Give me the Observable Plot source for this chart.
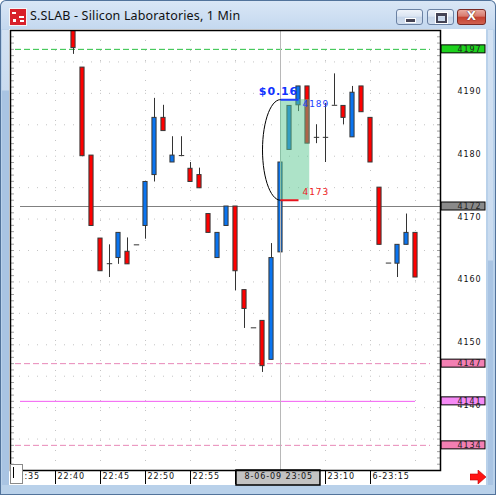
<!DOCTYPE html>
<html>
<head>
<meta charset="utf-8">
<script src="https://cdn.jsdelivr.net/npm/d3@7"></script>
<script src="https://cdn.jsdelivr.net/npm/@observablehq/plot@0.6"></script>
<style>
  html, body { margin: 0; padding: 0; background: #fff; }
  #win {
    position: relative; width: 496px; height: 495px; overflow: hidden;
    background: linear-gradient(to bottom, #dae7f6 0px, #c4d8ef 29px, #b9d1ea 30px, #b9d1ea 100%);
    border-radius: 6px 6px 0 0;
    box-shadow: inset 0 0 0 1px #52739b;
  }
  .strip-left { position: absolute; left: 2px; top: 30px; width: 7px; height: 455px;
    background: linear-gradient(to bottom, #d3e2f3 0, #c9dbef 60px, #a9c4e3 61px, #a9c4e3 100%); }
  .strip-right { position: absolute; left: 488px; top: 30px; width: 5px; height: 455px;
    background: linear-gradient(to bottom, #d3e2f3 0, #c9dbef 230px, #a9c4e3 231px, #a9c4e3 100%); }
  .icon { position: absolute; left: 10px; top: 9px; width: 16px; height: 16px;
    background:
      linear-gradient(#fff, #fff) 2px 3px / 4px 2px no-repeat,
      linear-gradient(#fff, #fff) 9px 7px / 5px 2px no-repeat,
      linear-gradient(#fff, #fff) 3px 10px / 3px 3px no-repeat,
      linear-gradient(#fff, #fff) 10px 11px / 4px 2px no-repeat,
      #d8202a; box-shadow: 0 0 0 1px #f4f4f4; }
  .title { position: absolute; left: 30px; top: 7px; font: 12.5px "Noto Sans", sans-serif; letter-spacing: 0.15px; color: #111; white-space: nowrap; }
  .btn { position: absolute; top: 9px; height: 16px; border: 1px solid #6a81a3; border-radius: 3px;
    background: linear-gradient(to bottom, #eef3fa 0, #dbe5f2 45%, #c6d5e9 50%, #d2dfef 100%); box-sizing: border-box; }
  .btn.min { left: 396px; width: 27px; }
  .btn.max { left: 427px; width: 27px; }
  .btn.close { left: 457px; width: 29px; border-color: #7a2a24;
    background: linear-gradient(to bottom, #e9a99f 0, #d77a6e 45%, #c4402f 50%, #d0614f 100%); }
  .btn.min::after { content: ""; position: absolute; left: 8px; top: 8px; width: 9px; height: 3px; background: #445; border: 1px solid #fff; }
  .btn.max::after { content: ""; position: absolute; left: 8px; top: 3px; width: 7px; height: 5px; border: 2px solid #445; border-top-width: 3px; box-shadow: 0 0 0 1px #fff; }
  .btn.close::after { content: "X"; position: absolute; left: 0; right: 0; top: -1px; text-align: center;
    font: bold 12px "DejaVu Sans", sans-serif; color: #fff; text-shadow: 0 0 1px #5a1a14, 0 0 1px #5a1a14; }
  #chart { position: absolute; left: 9px; top: 29px; }
  .scrollbox { position: absolute; left: 10px; top: 464px; width: 13px; height: 20px; box-sizing: border-box;
    background: #fff; border: 1px solid #8a8a8a; }
  .scrollbox::after { content: ""; position: absolute; left: 2px; top: 2px; width: 1px; height: 11px; background: #000; }
  .arrow { position: absolute; left: 470px; top: 470px; }
</style>
</head>
<body>
<div id="win">
  <div class="strip-left"></div>
  <div class="strip-right"></div>
  <div class="icon"></div>
  <div class="title">S.SLAB - Silicon Laboratories, 1 Min</div>
  <div class="btn min"></div>
  <div class="btn max"></div>
  <div class="btn close"></div>
  <div id="chart"></div>
  <div class="scrollbox"></div>
  <svg class="arrow" width="17" height="14"><polygon points="0,4 8,4 8,0 16,7 8,14 8,10 0,10" fill="#ff1414" stroke="#c00000" stroke-width="0.6"/></svg>
</div>
<script>
// One-minute bars, 22:42 – 23:20
const times  = ["22:42","22:43","22:44","22:45","22:46","22:47","22:48","22:49","22:50","22:51",
                "22:52","22:53","22:54","22:55","22:56","22:57","22:58","22:59","23:00","23:01",
                "23:02","23:03","23:04","23:05","23:06","23:07","23:08","23:09","23:10","23:11",
                "23:12","23:13","23:14","23:15","23:16","23:17","23:18","23:19","23:20"];
const opens  = [4201.5,4194.1,4180.1,4166.9,4162.9,4163.8,4164.8,4165.9,4168.9,4177.0,
                4186.1,4179.0,4180.1,4178.0,4177.0,4170.8,4163.8,4168.9,4172.0,4158.7,
                4152.7,4153.8,4147.6,4164.7,4181.0,4188.1,4191.1,4183.0,4183.0,4188.1,
                4188.0,4183.0,4191.1,4186.1,4175.0,4163.0,4162.9,4165.9,4167.8];
const highs  = [4202.0,4194.1,4180.1,4166.9,4165.9,4167.8,4167.0,4165.9,4175.9,4189.2,
                4188.1,4183.1,4183.1,4179.0,4178.1,4170.8,4167.8,4172.0,4172.0,4158.7,
                4152.7,4153.8,4166.1,4179.0,4188.0,4191.1,4191.1,4185.0,4188.4,4193.1,
                4188.0,4191.1,4191.1,4186.1,4175.0,4163.0,4165.9,4170.8,4167.8];
const lows   = [4196.2,4180.0,4168.9,4161.7,4160.7,4162.8,4162.8,4165.9,4166.8,4175.9,
                4184.0,4179.0,4180.1,4175.9,4174.9,4167.8,4163.8,4168.9,4158.6,4152.6,
                4152.7,4145.6,4147.6,4164.7,4181.0,4187.1,4182.0,4182.0,4179.0,4188.1,
                4185.0,4183.0,4187.0,4179.0,4165.9,4163.0,4160.7,4165.9,4160.7];
const closes = [4197.2,4180.0,4168.9,4161.7,4162.9,4167.8,4162.8,4165.9,4175.9,4186.1,
                4184.0,4180.1,4180.1,4175.9,4174.9,4167.8,4167.8,4172.0,4161.7,4155.7,
                4152.7,4146.6,4163.8,4179.0,4188.0,4191.1,4182.0,4183.0,4183.0,4188.1,
                4186.1,4190.1,4187.0,4179.0,4165.9,4163.0,4165.9,4167.8,4160.7];

// Price axis and reference levels
const priceTicks = [4190, 4180, 4170, 4160, 4150, 4140];
const gridPrices = [4195, 4190, 4185, 4180, 4175, 4170, 4165, 4160, 4155, 4150, 4145, 4140, 4135];
const minorPrices = d3.range(4131, 4200);
const levels = [4197, 4172, 4147, 4141, 4134];

// Time axis (23:00 and 23:05 sit under the cursor label)
const timeTicks  = ["22:35","22:40","22:45","22:50","22:55","23:10","23:15"];
const timeLabels = ["22:35","22:40","22:45","22:50","22:55","23:10","6-23:15"];
const separators = ["22:40","22:45","22:50","22:55","23:00","23:10","23:15"];
const gridTimes  = ["22:40","22:45","22:50","22:55","23:00","23:10","23:15","23:20"];

// Cursor and price-range measurement
const cursorTime = "23:05";
const cursorLabel = "8-06-09 23:05";
const measure = { from: "23:05", to: "23:08", tag: "23:07", low: 4173, high: 4189, label: "$0.16" };

const toMin = s => { const [h, m] = s.split(":").map(Number); return (h - 22) * 60 + m; };

const candles = times.map((t, i) => ({ m: toMin(t), o: opens[i], h: highs[i], l: lows[i], c: closes[i] }));
const ups = candles.filter(d => d.c > d.o);
const downs = candles.filter(d => d.c < d.o);
const flats = candles.filter(d => d.c === d.o);

const W = 477, H = 456, mL = 1, mT = 1, mR = 46, mB = 15;
const plotW = W - mL - mR, plotH = H - mT - mB;
const xDomain = [35, 35 + plotW / 9];
const yDomain = [4130, 4200];
const pxPerMin = plotW / (xDomain[1] - xDomain[0]);
const pxPerUnit = plotH / (yDomain[1] - yDomain[0]);
const xMax = xDomain[1];
const half = 0.23;

const levelStyle = {
  4197: { line: "#28c040", box: "#1ed21e", dash: "6,3", inL: 5, inR: 10 },
  4172: { line: "#808080", box: "#8a8a8a", dash: null, inL: 10, inR: 0 },
  4147: { line: "#e888b8", box: "#f27fb2", dash: "6,3", inL: 5, inR: 10 },
  4141: { line: "#f25cf2", box: "#f58af5", dash: null, inL: 10, inR: 25 },
  4134: { line: "#e888b8", box: "#f27fb2", dash: "6,3", inL: 5, inR: 10 }
};

// Half-ellipse bracket on the left side of the measured range
const mid = (measure.low + measure.high) / 2, ry = (measure.high - measure.low) / 2;
const arc = d3.range(90, 271, 6).map(a => ({
  x: toMin(measure.from) + 2 * Math.cos(a * Math.PI / 180),
  y: mid - ry * Math.sin(a * Math.PI / 180)
}));

const textStyle = { fontFamily: "DejaVu Sans, sans-serif", fontSize: 8 };

const chart = Plot.plot({
  width: W, height: H,
  marginLeft: mL, marginTop: mT, marginRight: mR, marginBottom: mB,
  x: { type: "linear", domain: xDomain },
  y: { domain: yDomain },
  style: { background: "white", overflow: "visible", fontFamily: "DejaVu Sans, sans-serif", fontSize: "8px", letterSpacing: "0.9px" },
  marks: [
    // dotted grid
    Plot.ruleY(gridPrices, { stroke: "#c4c4c4", strokeDasharray: "1,8" }),
    Plot.ruleX(gridTimes.map(toMin), { stroke: "#c4c4c4", strokeDasharray: "1,9" }),
    // minor ticks along both edges
    Plot.tickY(minorPrices, { y: d => d, insetRight: plotW - 4, stroke: "#a0a0a0" }),
    Plot.tickY(minorPrices, { y: d => d, insetLeft: plotW - 3, stroke: "#a0a0a0" }),
    // reference levels
    ...levels.map(v => Plot.ruleY([v], {
      stroke: levelStyle[v].line, strokeDasharray: levelStyle[v].dash,
      insetLeft: levelStyle[v].inL, insetRight: levelStyle[v].inR, strokeWidth: 1
    })),
    // candles
    Plot.ruleX(candles.filter(d => d.h > d.l), { x: "m", y1: "l", y2: "h", stroke: "#333", clip: true }),
    Plot.rect(downs, { x1: d => d.m - half, x2: d => d.m + half, y1: "o", y2: "c", fill: "#ff0000", stroke: "#383838", clip: true }),
    Plot.rect(ups, { x1: d => d.m - half, x2: d => d.m + half, y1: "o", y2: "c", fill: "#0a74f0", stroke: "#383838", clip: true }),
    Plot.link(flats, { x1: d => d.m - 0.3, x2: d => d.m + 0.3, y1: "c", y2: "c", stroke: "#333" }),
    // cursor line
    Plot.ruleX([toMin(cursorTime)], { stroke: "#b8b8b8" }),
    // measured range
    Plot.rect([measure], {
      x1: d => toMin(d.from), x2: d => toMin(d.to) + half + 0.02, y1: "low", y2: "high",
      fill: "#5cc792", fillOpacity: 0.5, ariaLabel: "measure"
    }),
    Plot.line(arc, { x: "x", y: "y", stroke: "black", strokeWidth: 1, curve: "natural" }),
    Plot.link([measure], { x1: d => toMin(d.from), x2: d => toMin(d.tag), y1: "high", y2: "high", stroke: "#1f3cff", strokeWidth: 2 }),
    Plot.link([measure], { x1: d => toMin(d.from), x2: d => toMin(d.tag), y1: "low", y2: "low", stroke: "#e8141e", strokeWidth: 2 }),
    Plot.text([measure], { x: d => toMin(d.from), y: "high", text: "label", dx: -2, dy: -8,
      fill: "#1133ff", fontWeight: "bold", fontSize: 11, fontFamily: "DejaVu Sans, sans-serif" }),
    Plot.text([measure], { x: d => toMin(d.tag), y: "high", text: d => String(d.high), dx: 4, dy: 4,
      textAnchor: "start", fill: "#2244ff", ...textStyle, fontSize: 9 }),
    Plot.text([measure], { x: d => toMin(d.tag), y: "low", text: d => String(d.low), dx: 4, dy: -8,
      textAnchor: "start", fill: "#ee2222", ...textStyle, fontSize: 9 }),
    // price axis
    Plot.axisY(priceTicks, { anchor: "right", tickSize: 0, tickPadding: 17, dy: -2, tickFormat: d => String(d), fill: "#111" }),
    // level value boxes
    Plot.rect(levels, {
      x1: xMax + 1 / pxPerMin, x2: xMax + 45 / pxPerMin,
      y1: v => v - 4 / pxPerUnit, y2: v => v + 4 / pxPerUnit,
      fill: v => levelStyle[v].box, stroke: "black", strokeWidth: 1
    }),
    Plot.text(levels, { x: xMax + 41 / pxPerMin, y: v => v, text: v => String(v), textAnchor: "end", fill: "#222", ...textStyle }),
    // time axis
    Plot.axisX(separators.map(toMin), { tickSize: 14, tickFormat: () => "", stroke: "black" }),
    Plot.text(timeTicks, { x: toMin, text: (d, i) => timeLabels[i], frameAnchor: "bottom", dy: 8, dx: 2,
      textAnchor: "start", fill: "#111", ...textStyle }),
    Plot.rect([cursorTime], {
      x1: d => toMin(d) - 4.89, x2: d => toMin(d) + 4.44,
      y1: yDomain[0], y2: yDomain[0] - 15 / pxPerUnit,
      fill: "#c3c3c3", stroke: "black", strokeWidth: 1.5
    }),
    Plot.text([cursorTime], { x: d => toMin(d) - 0.2, text: () => cursorLabel, frameAnchor: "bottom", dy: 8,
      fill: "#111", ...textStyle }),
    Plot.frame({ stroke: "black", strokeWidth: 1.5 })
  ]
});

d3.select(chart).selectAll('g[aria-label="measure"]')
  .style("filter", "drop-shadow(-4px 3px 3px rgba(0,0,0,0.55))");

document.getElementById("chart").append(chart);
</script>
</body>
</html>
